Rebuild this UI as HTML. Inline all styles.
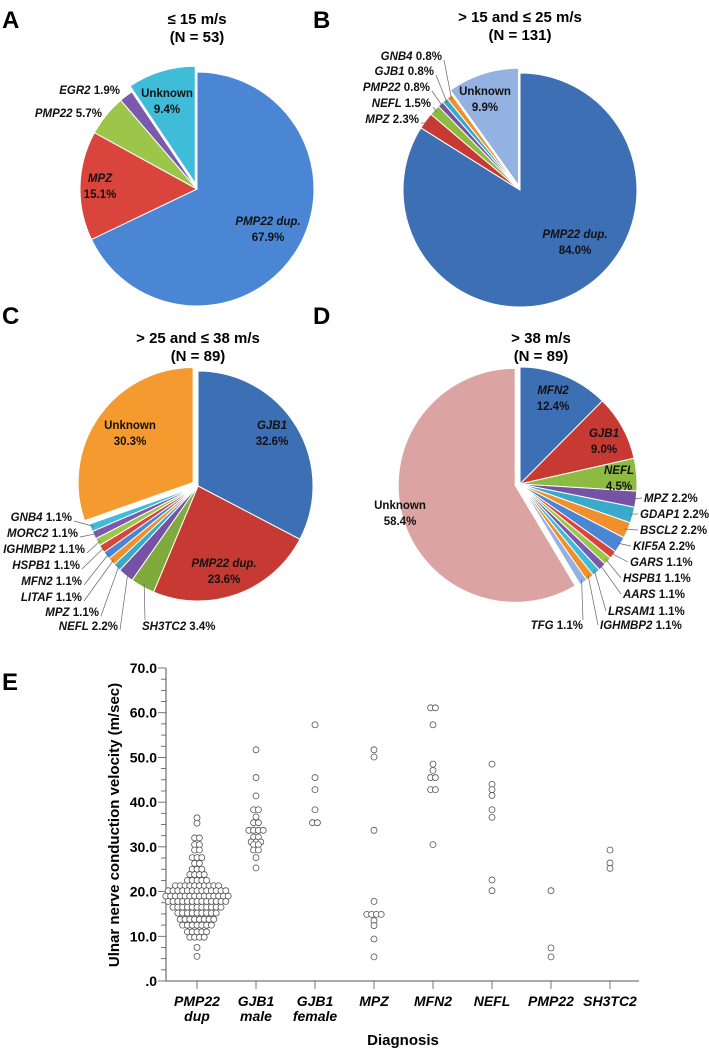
<!DOCTYPE html>
<html><head><meta charset="utf-8">
<style>
html,body{margin:0;padding:0;background:#fff;}
svg{display:block;font-family:"Liberation Sans",Arial,sans-serif;}
.t{font-weight:bold;font-size:15px;}
.lb{font-weight:bold;font-size:11.5px;fill:#111;}
.pl{font-weight:bold;font-size:24px;}
</style></head>
<body>
<svg id="fig" width="709" height="1049" viewBox="0 0 709 1049" xmlns="http://www.w3.org/2000/svg">
<text class="pl" x="2" y="28">A</text>
<text class="pl" x="313" y="28">B</text>
<text class="pl" x="2" y="324">C</text>
<text class="pl" x="313" y="324">D</text>
<text class="pl" x="2" y="690">E</text>
<text class="t" x="197" y="24" text-anchor="middle">≤ 15 m/s</text>
<text class="t" x="197" y="42" text-anchor="middle">(N = 53)</text>
<text class="t" x="520" y="22" text-anchor="middle">&gt; 15 and ≤ 25 m/s</text>
<text class="t" x="520" y="40" text-anchor="middle">(N = 131)</text>
<text class="t" x="198" y="343" text-anchor="middle">&gt; 25 and ≤ 38 m/s</text>
<text class="t" x="198" y="361" text-anchor="middle">(N = 89)</text>
<text class="t" x="541" y="343" text-anchor="middle">&gt; 38 m/s</text>
<text class="t" x="541" y="361" text-anchor="middle">(N = 89)</text>
<g id="pies"></g>
<g id="dot"></g>
</svg>
<script>
// ---- Pie data ----
const pieA_labels = ["PMP22 dup.","MPZ","PMP22","EGR2","Unknown"];
const pieA_values = [67.9,15.1,5.7,1.9,9.4];
const pieB_labels = ["PMP22 dup.","MPZ","NEFL","PMP22","GJB1","GNB4","Unknown"];
const pieB_values = [84.0,2.3,1.5,0.8,0.8,0.8,9.9];
const pieC_labels = ["GJB1","PMP22 dup.","SH3TC2","NEFL","MPZ","LITAF","MFN2","HSPB1","IGHMBP2","MORC2","GNB4","Unknown"];
const pieC_values = [32.6,23.6,3.4,2.2,1.1,1.1,1.1,1.1,1.1,1.1,1.1,30.3];
const pieD_labels = ["MFN2","GJB1","NEFL","MPZ","GDAP1","BSCL2","KIF5A","GARS","HSPB1","AARS","LRSAM1","IGHMBP2","TFG","Unknown"];
const pieD_values = [12.4,9.0,4.5,2.2,2.2,2.2,2.2,1.1,1.1,1.1,1.1,1.1,1.1,58.4];

// ---- Dot plot data ----
const categories = ["PMP22|dup","GJB1|male","GJB1|female","MPZ","MFN2","NEFL","PMP22","SH3TC2"];
const yTicks = [0,10,20,30,40,50,60,70];
const yTickLabels = [".0","10.0","20.0","30.0","40.0","50.0","60.0","70.0"];
const vPMP22dup = [36.5,35.3,32,32,30.5,30.5,29.3,29.3,27.6,27.6,27.6,26.3,26.3,25,25,25,23.8,23.8,23.8,23.8,
22.5,22.5,22.5,22.5,22.5,21.3,21.3,21.3,21.3,21.3,21.3,21.3,21.3,21.3,21.3,
20.2,20.2,20.2,20.2,20.2,20.2,20.2,20.2,20.2,20.2,20.2,20.2,20.2,
19,19,19,19,19,19,19,19,19,19,19,19,19,19,
17.8,17.8,17.8,17.8,17.8,17.8,17.8,17.8,17.8,17.8,17.8,17.8,17.8,
16.5,16.5,16.5,16.5,16.5,16.5,16.5,16.5,16.5,16.5,16.5,
15.2,15.2,15.2,15.2,15.2,15.2,15.2,15.2,15.2,
13.8,13.8,13.8,13.8,13.8,13.8,13.8,13.8,
12.5,12.5,12.5,12.5,12.5,12.5,12.5,
11,11,11,11,11,9.8,9.8,9.8,9.8,7.5,5.5];
const vGJB1male = [51.7,45.5,41.4,38.3,38.3,36.7,35.4,35.4,33.7,33.7,33.7,33.7,32.2,32.2,31.1,31.1,31.1,30.5,30.5,29.3,29.3,27.6,25.3];
const vGJB1female = [57.3,45.5,42.8,38.3,35.4,35.4];
const vMPZ = [51.7,50.1,33.7,17.8,14.9,14.9,14.9,14.9,13.5,12.4,9.4,5.4];
const vMFN2 = [61.1,61.1,57.3,48.5,47.1,45.5,45.5,42.8,42.8,30.5];
const vNEFL = [48.5,44,42.8,41.5,38.3,36.6,22.6,20.2];
const vPMP22 = [20.2,7.4,5.4];
const vSH3TC2 = [29.3,26.4,25.2];
const seriesValues = [vPMP22dup,vGJB1male,vGJB1female,vMPZ,vMFN2,vNEFL,vPMP22,vSH3TC2];

const NS="http://www.w3.org/2000/svg";
function mk(tag,attrs,parent){const e=document.createElementNS(NS,tag);for(const k in attrs)e.setAttribute(k,attrs[k]);parent.appendChild(e);return e;}
const pies=document.getElementById('pies');

function pt(cx,cy,r,a){return [cx+r*Math.sin(a),cy-r*Math.cos(a)];}
function drawPie(id,cx,cy,r,labels,values,colors,explode){
  const g=mk('g',{},pies);
  
  
  const tot=values.reduce((a,b)=>a+b,0);
  let a0=0;const mids=[];
  values.forEach((v,i)=>{
    const a1=a0+v/tot*2*Math.PI;const am=(a0+a1)/2;
    const ex=explode[i]||0;const ox=ex*Math.sin(am),oy=-ex*Math.cos(am);
    const p0=pt(cx+ox,cy+oy,r,a0),p1=pt(cx+ox,cy+oy,r,a1);
    const large=(a1-a0)>Math.PI?1:0;
    const p=mk('path',{d:`M${cx+ox},${cy+oy}L${p0[0]},${p0[1]}A${r},${r} 0 ${large} 1 ${p1[0]},${p1[1]}Z`,fill:colors[i%colors.length],stroke:'#fff','stroke-width':1},g);
    
    
    mids.push({am,ox,oy});
    a0=a1;
  });
  return {g,mids,cx,cy,r};
}
function label(g,x,y,gene,pct,anchor,italic,fill){
  const t=mk('text',{x,y,'text-anchor':anchor||'start',class:'lb',fill:fill||'#111'},g);
  
  
  const s1=mk('tspan',{'font-style':italic===false?'normal':'italic'},t);s1.textContent=gene;
  if(pct){const s2=mk('tspan',{},t);s2.textContent=pct;}
  return t;
}
function leader(g,P,i,x,y){
  const m=P.mids[i];const q=pt(P.cx+m.ox,P.cy+m.oy,P.r*0.97,m.am);
  const l=mk('polyline',{points:`${x},${y} ${q[0]},${q[1]}`,fill:'none',stroke:'#666','stroke-width':0.7},g);
  
  
}
function center(g,x,y,l1,l2,it,fill){
  label(g,x,y,l1,'', 'middle',it,fill);
  label(g,x,y+16,l2,'','middle',false,fill);
}
const fmt=v=>v.toFixed(1)+'%';

// A
let P=drawPie('a',197,189,117,pieA_labels,pieA_values,['#4a86d4','#d9443c','#9cc64a','#7b59ad','#3fbcd8'],{4:6});
center(P.g,268,225,'PMP22 dup.',fmt(pieA_values[0]),true,'#0b1f3a');
center(P.g,100,182,'MPZ',fmt(pieA_values[1]),true,'#2b0a08');
label(P.g,102,117,'PMP22  ',fmt(pieA_values[2]),'end');
label(P.g,120,94,'EGR2  ',fmt(pieA_values[3]),'end');
center(P.g,167,97,'Unknown',fmt(pieA_values[4]),false,'#0b2a3a');

// B
P=drawPie('b',520,190,117,pieB_labels,pieB_values,['#3d6fb4','#c63a33','#8dbb42','#7652a5','#3aaacb','#f0902c','#93b1e1'],{6:5});
center(P.g,575,238,'PMP22 dup.',fmt(pieB_values[0]),true,'#0b1f3a');
const bl=[[419,123],[431,107],[430,91],[434,75],[442,60]];
for(let i=1;i<=5;i++){label(P.g,bl[i-1][0],bl[i-1][1],pieB_labels[i]+'  ',fmt(pieB_values[i]),'end');leader(P.g,P,i,bl[i-1][0]+2,bl[i-1][1]);}
center(P.g,485,95,'Unknown',fmt(pieB_values[6]),false,'#10203a');

// C
P=drawPie('c',198,486,115,pieC_labels,pieC_values,['#3d6fb4','#c63a33','#7faa3c','#7652a5','#3aaacb','#f0902c','#4a86d4','#d9443c','#9cc64a','#7b59ad','#3fbcd8','#f59a2e'],{11:6});
center(P.g,272,429,'GJB1',fmt(pieC_values[0]),true,'#0b1f3a');
center(P.g,224,567,'PMP22 dup.',fmt(pieC_values[1]),true,'#2b0a08');
label(P.g,142,630,'SH3TC2 ',fmt(pieC_values[2]),'start');leader(P.g,P,2,145,620);
const cl=[[118,630],[99,616],[82,601],[82,585],[80,569],[85,553],[78,537],[72,521]];
for(let i=3;i<=10;i++){const c=cl[i-3];label(P.g,c[0],c[1],pieC_labels[i]+' ',fmt(pieC_values[i]),'end');leader(P.g,P,i,c[0]+2,c[1]);}
center(P.g,130,429,'Unknown',fmt(pieC_values[11]),false,'#2a1500');

// D
P=drawPie('d',520,484,117,pieD_labels,pieD_values,['#3d6fb4','#c63a33','#8dbb42','#7652a5','#3aaacb','#f0902c','#4a86d4','#d9443c','#9cc64a','#7b59ad','#3fbcd8','#f0902c','#93b1e1','#dca3a3'],{13:5});
center(P.g,553,394,'MFN2',fmt(pieD_values[0]),true,'#0b1f3a');
center(P.g,604,437,'GJB1',fmt(pieD_values[1]),true,'#2b0a08');
center(P.g,619,474,'NEFL',fmt(pieD_values[2]),true,'#1a2a08');
const dl=[[644,502],[640,518],[640,534],[633,550],[630,566],[623,582],[623,598],[608,615],[600,629]];
for(let i=3;i<=11;i++){const c=dl[i-3];label(P.g,c[0],c[1],pieD_labels[i]+'  ',fmt(pieD_values[i]),'start');leader(P.g,P,i,c[0]-2,c[1]-4);}
label(P.g,583,629,pieD_labels[12]+'  ',fmt(pieD_values[12]),'end');leader(P.g,P,12,583,620);
center(P.g,400,509,'Unknown',fmt(pieD_values[13]),false,'#2a0f0f');

// ---- Dot plot ----
const dg=document.getElementById('dot');
const X0=166,Y0=981,Y70=668,XEND=639;
const yS=v=>Y0-(v/70)*(Y0-Y70);
const xS=i=>197+i*59;
let ax=mk('line',{x1:X0,y1:Y70,x2:X0,y2:Y0,stroke:'#555','stroke-width':1},dg);

ax=mk('line',{x1:X0,y1:Y0,x2:XEND,y2:Y0,stroke:'#555','stroke-width':1},dg);

for(let v=0;v<=70;v+=2.5){mk('line',{x1:X0-(v%10===0?8:5),y1:yS(v),x2:X0,y2:yS(v),stroke:'#555','stroke-width':0.8},dg);}
yTicks.forEach((v,i)=>{const t=mk('text',{x:157,y:yS(v)+5,'text-anchor':'end','font-size':14,'font-weight':'bold'},dg);
 t.textContent=yTickLabels[i];});
categories.forEach((c,i)=>{
 mk('line',{x1:xS(i),y1:Y0,x2:xS(i),y2:Y0+8,stroke:'#555','stroke-width':0.8},dg);
 const parts=c.split('|');
 parts.forEach((p,j)=>{const t=mk('text',{x:xS(i),y:1006+j*15,'text-anchor':'middle','font-size':14,'font-weight':'bold','font-style':'italic'},dg);
  t.textContent=p;});
 const vals=seriesValues[i];const groups={};
 vals.forEach(v=>{(groups[v]=groups[v]||[]).push(v);});
 Object.keys(groups).forEach(k=>{const n=groups[k].length;
  groups[k].forEach((v,j)=>{const cc=mk('circle',{cx:xS(i)+(j-(n-1)/2)*4.8,cy:yS(v),r:3.0,fill:'#fff',stroke:'#555','stroke-width':0.8},dg);
   });});
});
let tt=mk('text',{x:0,y:0,transform:'translate(119,825) rotate(-90)','text-anchor':'middle','font-size':15,'font-weight':'bold'},dg);
tt.textContent='Ulnar nerve conduction velocity (m/sec)';
tt=mk('text',{x:403,y:1045,'text-anchor':'middle','font-size':15,'font-weight':'bold'},dg);
tt.textContent='Diagnosis';
</script>
</body></html>
